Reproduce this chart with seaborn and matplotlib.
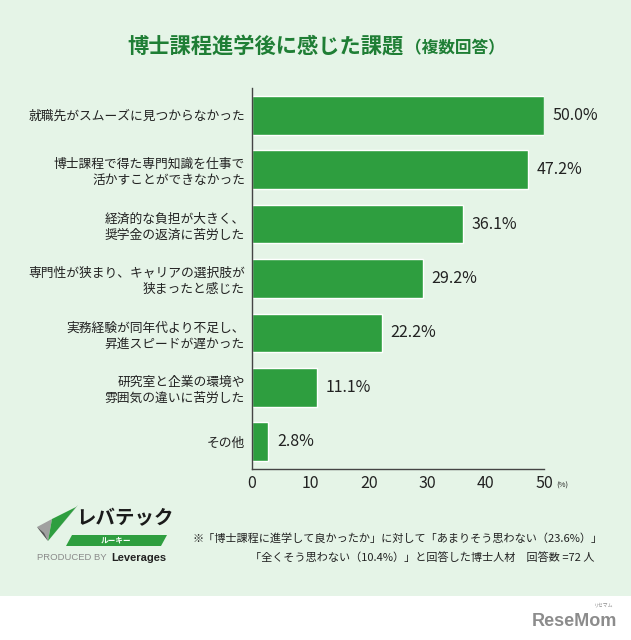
import matplotlib
matplotlib.use("Agg")
import matplotlib.pyplot as plt
import seaborn as sns
import pandas as pd
from matplotlib.patches import Rectangle, Polygon

categories = [
    "就職先がスムーズに見つからなかった",
    "博士課程で得た専門知識を仕事で\n活かすことができなかった",
    "経済的な負担が大きく、\n奨学金の返済に苦労した",
    "専門性が狭まり、キャリアの選択肢が\n狭まったと感じた",
    "実務経験が同年代より不足し、\n昇進スピードが遅かった",
    "研究室と企業の環境や\n雰囲気の違いに苦労した",
    "その他",
]
values = [50.0, 47.2, 36.1, 29.2, 22.2, 11.1, 2.8]
x_ticks = [0, 10, 20, 30, 40, 50]

BG = "#e5f4e7"
BAR = "#2e9e3f"
TITLE = "#1f7e35"
TXT = "#222222"

sns.set_style("white")
plt.rcParams["font.family"] = ["Noto Sans CJK JP", "DejaVu Sans"]

df = pd.DataFrame({"cat": categories, "val": values})

fig = plt.figure(figsize=(6.31, 6.40), dpi=100)
fig.patch.set_facecolor("white")

# background layer: light green panel + logo + watermark
bg = fig.add_axes([0, 0, 1, 1], zorder=-5)
bg.set_xlim(0, 631)
bg.set_ylim(640, 0)
bg.axis("off")
bg.add_patch(Rectangle((0, 0), 631, 596, facecolor=BG, edgecolor="none"))

# logo (check mark)
bg.add_patch(Polygon([[37, 527], [52, 519], [48, 541]], closed=True, facecolor="#a0a0a0", edgecolor="none"))
bg.add_patch(Polygon([[37, 527], [48, 541], [44, 533]], closed=True, facecolor="#555555", edgecolor="none"))
bg.add_patch(Polygon([[52, 519], [76, 507], [48, 541]], closed=True, facecolor="#2e9e3f", edgecolor="none"))
bg.add_patch(Polygon([[76, 507], [78, 505], [48, 541]], closed=True, facecolor="#1f6f2d", edgecolor="none"))
bg.text(76, 519, "レバテック", fontsize=14, fontweight="bold", fontstyle="italic",
        color="#1a1a1a", ha="left", va="center")
bg.add_patch(Polygon([[66, 546], [72, 535], [167, 535], [161, 546]], closed=True,
                     facecolor="#2e9e3f", edgecolor="none"))
bg.text(116, 540.5, "ルーキー", fontsize=5.5, color="white", ha="center", va="center",
        fontweight="bold")
bg.text(37, 558, "PRODUCED BY", fontsize=6.8, color="#8a8a8a", ha="left", va="center",
        family=["Liberation Sans", "DejaVu Sans"])
bg.text(166, 558, "Leverages", fontsize=8, color="#222222", ha="right", va="center",
        fontweight="bold", family=["Liberation Sans", "DejaVu Sans"])

# watermark
bg.text(617, 621, "ReseMom", fontsize=13, fontweight="bold", color="#8c8c8c",
        ha="right", va="center", family=["Liberation Sans", "DejaVu Sans"])
bg.text(604, 605, "リセマム", fontsize=3.5, color="#8c8c8c", ha="center", va="center")

# main chart
ax = fig.add_axes([252 / 631, 1 - 469 / 640, (544 - 252) / 631, (469 - 88) / 640])
ax.patch.set_alpha(0)
sns.barplot(data=df, x="val", y="cat", orient="h", color=BAR, saturation=1,
            width=0.71, ax=ax)

ax.set_xlim(0, 50)
ax.set_ylim(6.5, -0.5)
ax.set_xticks(x_ticks)
ax.set_xticklabels([str(t) for t in x_ticks], fontsize=11.5, color=TXT)
ax.tick_params(axis="x", length=0, pad=4)
ax.tick_params(axis="y", length=0, pad=5)
for lab in ax.get_yticklabels():
    lab.set_fontsize(9.2)
    lab.set_color(TXT)
    lab.set_linespacing(1.3)
ax.set_xlabel("")
ax.set_ylabel("")
for s in ["top", "right"]:
    ax.spines[s].set_visible(False)
for s in ["left", "bottom"]:
    ax.spines[s].set_color("#444444")
    ax.spines[s].set_linewidth(1.0)

for i, v in enumerate(values):
    ax.text(v + 1.5, i, f"{v:.1f}%", va="center", ha="left", fontsize=11.5, color=TXT)

ax.annotate("(%)", xy=(1, 0), xycoords="axes fraction", xytext=(9, -12),
            textcoords="offset points", fontsize=5.5, color=TXT, ha="left", va="center")

# title
fig.text(404 / 631, 1 - 47 / 640, "博士課程進学後に感じた課題", fontsize=15.3,
         fontweight="bold", color=TITLE, ha="right", va="center")
fig.text(405 / 631, 1 - 48 / 640, "（複数回答）", fontsize=12,
         fontweight="bold", color=TITLE, ha="left", va="center")

# footnote
fig.text(193 / 631, 1 - 538 / 640,
         "※「博士課程に進学して良かったか」に対して「あまりそう思わない（23.6%）」",
         fontsize=8, color=TXT, ha="left", va="center")
fig.text(594 / 631, 1 - 557 / 640,
         "「全くそう思わない（10.4%）」と回答した博士人材　回答数 =72 人",
         fontsize=8, color=TXT, ha="right", va="center")

fig.savefig("out.png", dpi=100, facecolor=fig.get_facecolor())
